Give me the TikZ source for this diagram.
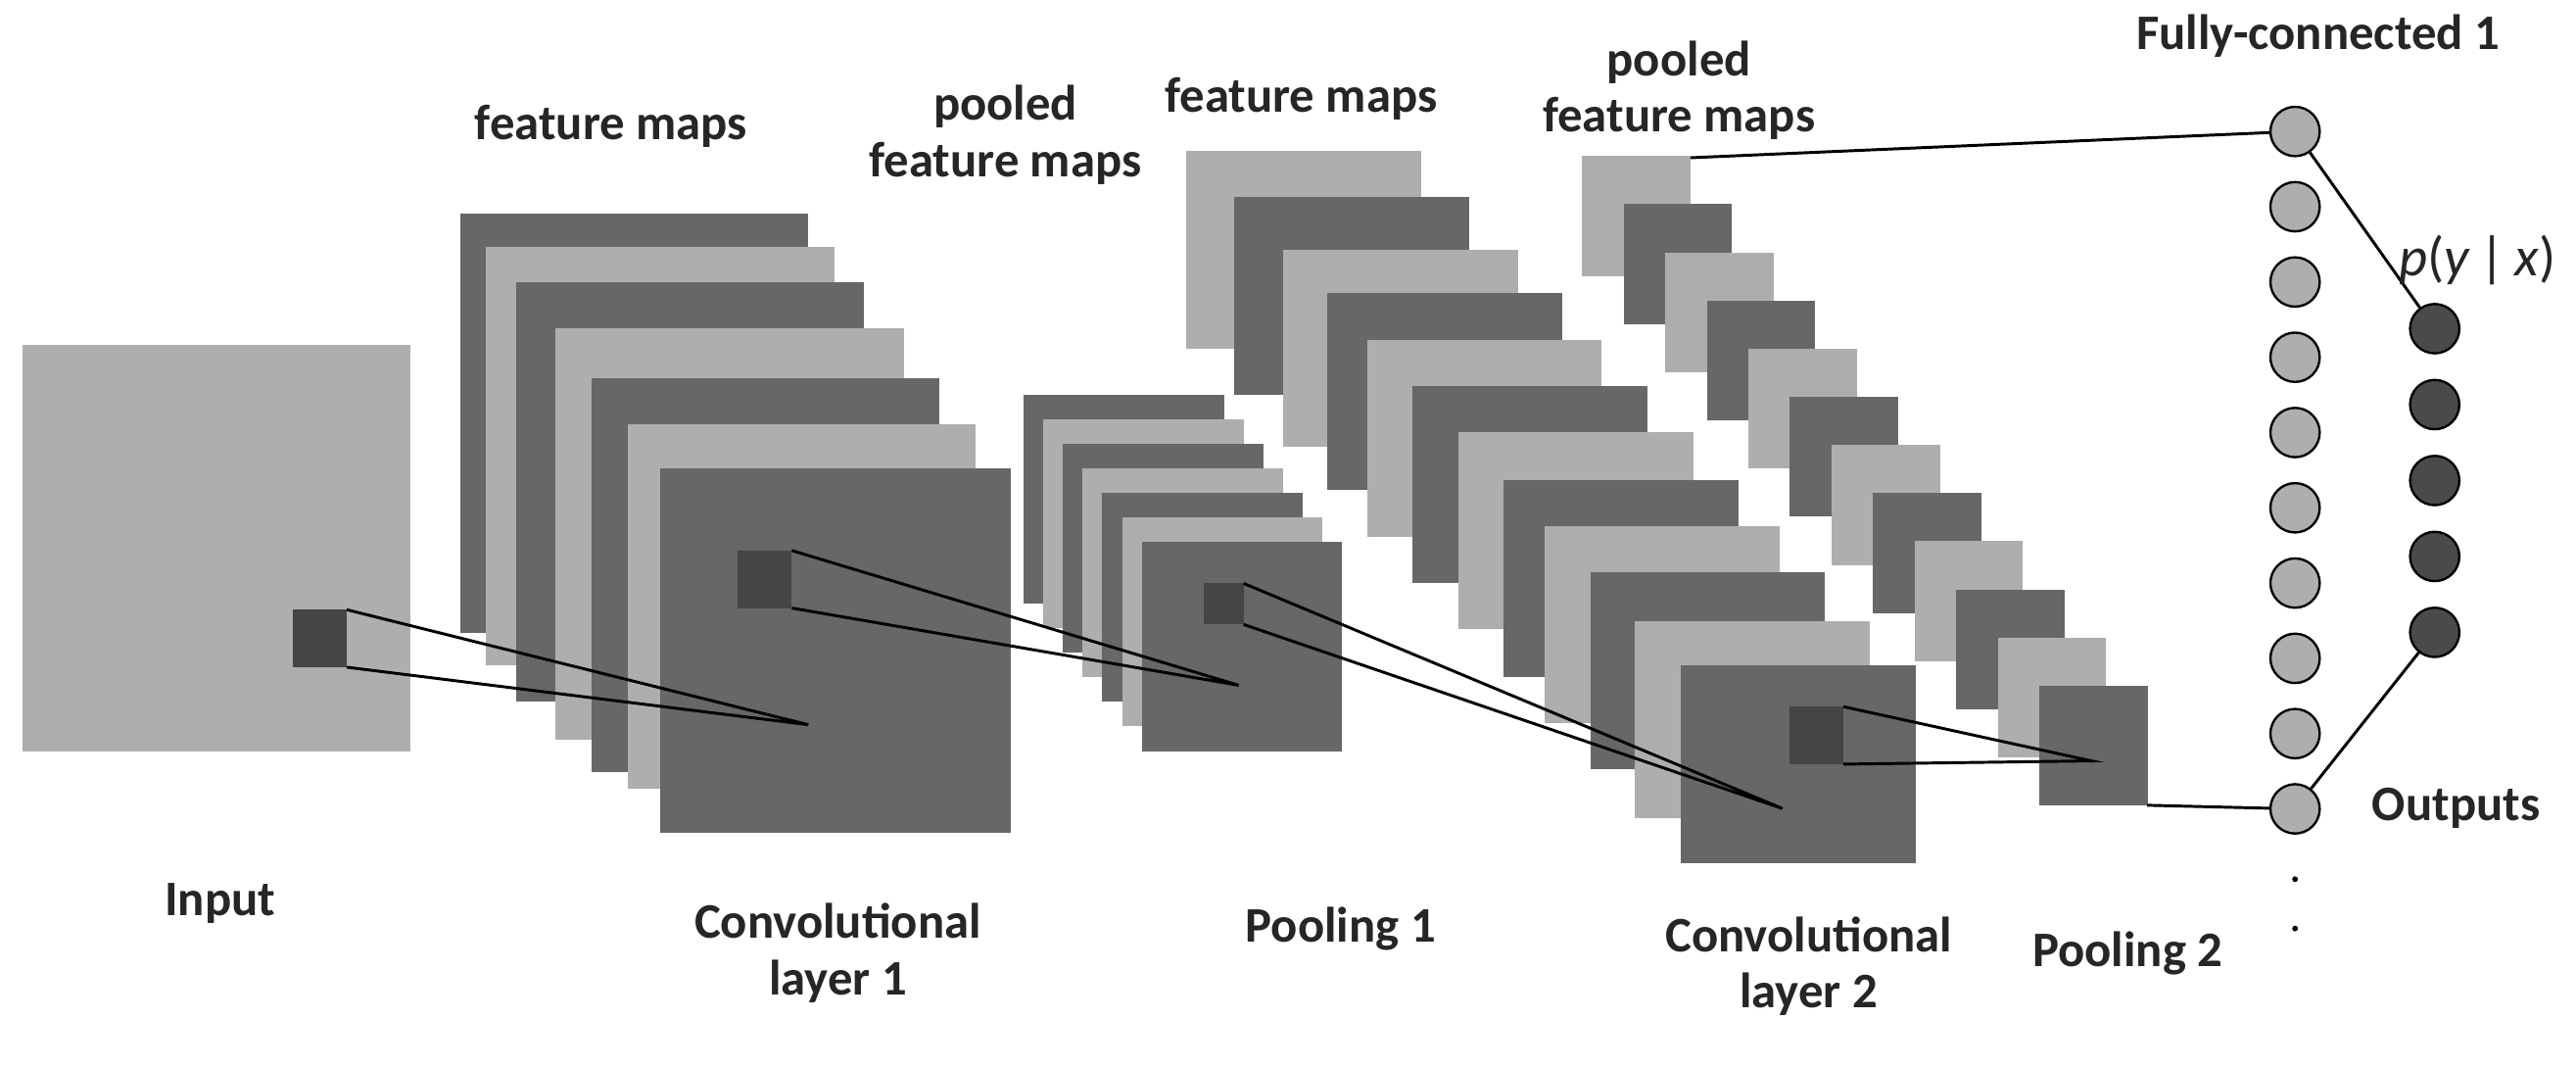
\documentclass[tikz,border=0pt]{standalone}
\usepackage{fontspec}
\setmainfont{Carlito}
\begin{document}
\begin{tikzpicture}[x=0.01cm,y=-0.01cm,
  lt/.style={fill=lgray,draw=none},
  dk/.style={fill=dgray,draw=none},
  sq/.style={fill=sgray,draw=none},
  ln/.style={draw=black,line width=0.5pt},
  fc/.style={circle,draw=black,fill=lgray,minimum size=0.30cm,inner sep=0pt,line width=0.4pt},
  outn/.style={circle,draw=black,fill=ogray,minimum size=0.30cm,inner sep=0pt,line width=0.4pt},
  dot/.style={circle,fill=black,minimum size=0.035cm,inner sep=0pt},
  lab/.style={font=\fontsize{8.6}{9.8}\selectfont\bfseries,align=center,text=black!85}]
\definecolor{lgray}{HTML}{AEAEAE}
\definecolor{dgray}{HTML}{676767}
\definecolor{sgray}{HTML}{454545}
\definecolor{ogray}{HTML}{4A4A4A}
\useasboundingbox[fill=white] (0,0) rectangle (1568,649);
% Input
\fill[lt] (14,210) rectangle (250,457);
\fill[sq] (178,371) rectangle (211,406);
\coordinate (i1) at (211,371); \coordinate (i2) at (211,406);
% Conv 1
\foreach \x/\y/\s/\h in {280/130/dk/255,296/150/lt/255,314/172/dk/255,338/200/lt/250,360/230/dk/240,382/258/lt/222}
  \fill[\s] (\x,\y) rectangle ++(212,\h);
\fill[dk] (402,285) rectangle (615,507);
\coordinate (c1t) at (492,441);
\fill[sq] (449,335) rectangle (482,370);
\coordinate (c1a) at (482,335); \coordinate (c1b) at (482,370);
% Pool 1
\foreach \k [evaluate=\k as \x using 623+12*\k, evaluate=\k as \y using 240+15*\k] in {0,...,5}{
  \pgfmathtruncatemacro{\m}{mod(\k,2)}
  \ifnum\m=0 \fill[dk] (\x,\y) rectangle ++(122,127); \else \fill[lt] (\x,\y) rectangle ++(122,127); \fi}
\fill[dk] (695,330) rectangle (817,457);
\coordinate (p1t) at (754,417);
\fill[sq] (733,355) rectangle (757,380);
\coordinate (p1a) at (757,355); \coordinate (p1b) at (757,380);
% Conv 2
\foreach \x/\y [count=\i] in {722/92,751/120,781/152,808/178,832/207,860/235,888/263,915/292,940/320,968/348,995/378,1023/405}{
  \pgfmathtruncatemacro{\m}{mod(\i,2)}
  \ifnum\m=1 \fill[lt] (\x,\y) rectangle ++(143,120); \else \fill[dk] (\x,\y) rectangle ++(143,120); \fi}
\coordinate (c2t) at (1085,492);
\fill[sq] (1089,430) rectangle (1122,465);
\coordinate (c2a) at (1122,430); \coordinate (c2b) at (1122,465);
% Pool 2
\foreach \k [evaluate=\k as \x using 963+25.3*\k, evaluate=\k as \y using 95+29.3*\k] in {0,...,11}{
  \pgfmathtruncatemacro{\m}{mod(\k,2)}
  \ifnum\m=0 \fill[lt] (\x,\y) rectangle ++(66,73); \else \fill[dk] (\x,\y) rectangle ++(66,73); \fi}
\coordinate (p2t) at (1273,463);
\coordinate (p2back) at (1029,96);
\coordinate (p2front) at (1307,490);
% FC
\foreach \i in {0,...,9} \node[fc] (f\i) at (1397,80+45.8*\i) {};
\node[dot] (d1) at (1397,535) {};
\node[dot] (d2) at (1397,565) {};
\foreach \i in {0,...,4} \node[outn] (o\i) at (1482,200+46.2*\i) {};
% lines
\draw[ln] (i1) -- (c1t) -- (i2);
\draw[ln] (c1a) -- (p1t) -- (c1b);
\draw[ln] (p1a) -- (c2t) -- (p1b);
\draw[ln] (c2a) -- (p2t) -- (c2b);
\draw[ln] (p2back) -- (f0);
\draw[ln] (p2front) -- (f9);
\draw[ln] (f0) -- (o0);
\draw[ln] (f9) -- (o4);
% labels
\node[lab] (l1) at (372,77) {feature maps};
\node[lab] (l2) at (612,82) {pooled\\feature maps};
\node[lab] (l3) at (792,60) {feature maps};
\node[lab] (l4) at (1022,55) {pooled\\feature maps};
\node[lab] (l5) at (1411,22) {Fully-connected 1};
\node[font=\fontsize{9.6}{10}\selectfont,text=black!85] (l6) at (1508,158) {\textit{p}(\textit{y}\,|\,\textit{x})};
\node[lab] (l7) at (134,550) {Input};
\node[lab] (l8) at (510,580) {Convolutional\\layer 1};
\node[lab] (l9) at (816,565) {Pooling 1};
\node[lab] (l10) at (1101,588) {Convolutional\\layer 2};
\node[lab] (l11) at (1295,580) {Pooling 2};
\node[lab] (l12) at (1495,492) {Outputs};
\end{tikzpicture}
\end{document}
